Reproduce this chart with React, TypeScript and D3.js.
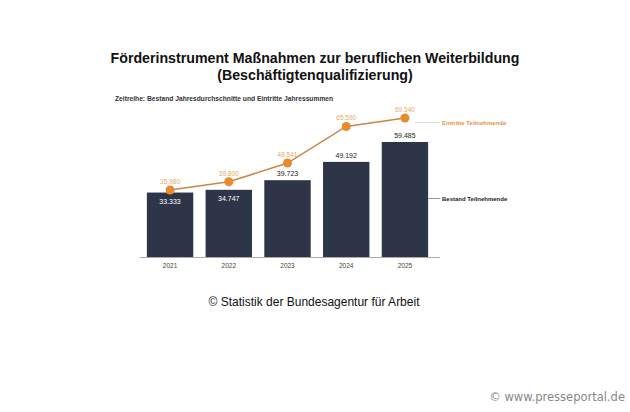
import React from "react";
import * as d3 from "d3";

const years = ["2021", "2022", "2023", "2024", "2025"];
const bestand = [33333, 34747, 39723, 49192, 59485];
const eintritte = [35980, 39800, 48541, 65590, 69540];
const bestandLabels = ["33.333", "34.747", "39.723", "49.192", "59.485"];
const eintritteLabels = ["35.980", "39.800", "48.541", "65.590", "69.540"];

const W = 630;
const H = 412;

export default function App() {
  const x = d3.scaleBand<string>().domain(years).range([141, 434]).paddingInner(0.21).paddingOuter(0.1);
  const baseY = 257;
  const y = d3.scaleLinear().domain([0, 60000]).range([baseY, baseY - 116]);
  const yl = d3.scaleLinear().domain([30000, 70000]).range([202.8, 117]);
  const line = d3
    .line<number>()
    .x((_, i) => (x(years[i]) as number) + x.bandwidth() / 2)
    .y((d) => yl(d));
  const font = "'Liberation Sans', Arial, sans-serif";
  return (
    <div style={{ position: "fixed", left: 0, top: 0 }}>
      <svg width={W} height={H} style={{ display: "block", background: "#fff" }}>
        <text x={315} y={63} textAnchor="middle" fontFamily={font} fontWeight="bold" fontSize={14.2} fill="#111">
          Förderinstrument Maßnahmen zur beruflichen Weiterbildung
        </text>
        <text x={315} y={80} textAnchor="middle" fontFamily={font} fontWeight="bold" fontSize={14.2} fill="#111">
          (Beschäftigtenqualifizierung)
        </text>
        <text x={115} y={101} fontFamily={font} fontWeight="bold" fontSize={6.7} fill="#333">
          Zeitreihe: Bestand Jahresdurchschnitte und Eintritte Jahressummen
        </text>
        <line x1={140} x2={440} y1={baseY + 0.5} y2={baseY + 0.5} stroke="#aaa" strokeWidth={1} />
        {years.map((yr, i) => {
          const bx = x(yr) as number;
          const cx = bx + x.bandwidth() / 2;
          const top = y(bestand[i]);
          const inside = i < 2;
          return (
            <g key={yr}>
              <rect x={bx} y={top} width={x.bandwidth()} height={baseY - top} fill="#2e3549" />
              <text
                x={cx}
                y={inside ? top + 11 : top - 4}
                textAnchor="middle"
                fontFamily={font}
                fontSize={7}
                fill={inside ? "#fff" : "#222"}
              >
                {bestandLabels[i]}
              </text>
              <text x={cx} y={baseY + 11} textAnchor="middle" fontFamily={font} fontSize={6.5} fill="#444">
                {yr}
              </text>
            </g>
          );
        })}
        <path d={line(eintritte) || ""} fill="none" stroke="#cf8445" strokeWidth={1.5} />
        {eintritte.map((v, i) => {
          const cx = (x(years[i]) as number) + x.bandwidth() / 2;
          return (
            <g key={i}>
              <circle cx={cx} cy={yl(v)} r={4.5} fill="#e88b2e" />
              <text x={cx} y={yl(v) - 6} textAnchor="middle" fontFamily={font} fontSize={6.5} fill="#e8a868">
                {eintritteLabels[i]}
              </text>
            </g>
          );
        })}
        <line x1={415} x2={440} y1={122.5} y2={122.5} stroke="#ddd" strokeWidth={1} />
        <text x={442} y={124.5} fontFamily={font} fontWeight="bold" fontSize={6} fill="#e8914a">
          Eintritte Teilnehmende
        </text>
        <line x1={428} x2={440} y1={198.5} y2={198.5} stroke="#999" strokeWidth={1} />
        <text x={442} y={200.5} fontFamily={font} fontWeight="bold" fontSize={6} fill="#222">
          Bestand Teilnehmende
        </text>
        <text x={314} y={306} textAnchor="middle" fontFamily={font} fontSize={12} fill="#111">
          © Statistik der Bundesagentur für Arbeit
        </text>
        <text x={625} y={401} textAnchor="end" fontFamily="'DejaVu Sans', Verdana, sans-serif" fontSize={11.5} fill="#888">
          © www.presseportal.de
        </text>
      </svg>
    </div>
  );
}
